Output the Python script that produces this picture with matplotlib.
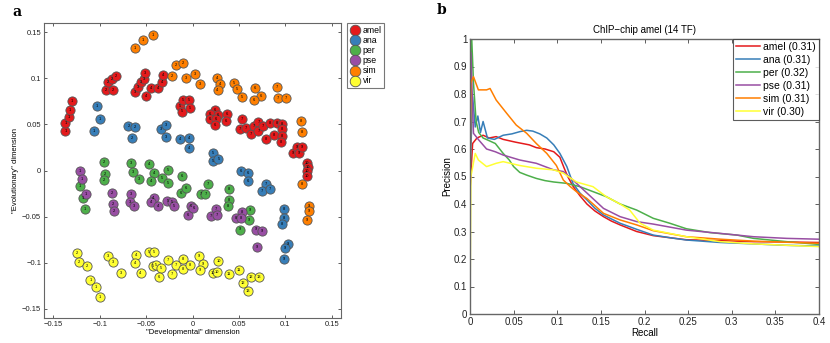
import matplotlib
matplotlib.use("Agg")
import matplotlib.pyplot as plt

plt.rcParams["font.family"] = ["Liberation Sans", "DejaVu Sans"]

# ---- panel a: MDS of expression profiles ----
species = ["amel", "ana", "per", "pse", "sim", "vir"]
colors = ["#E41A1C", "#377EB8", "#4DAF4A", "#984EA3", "#FF7F00", "#FFFF33"]

amel_x = [-0.137, -0.137, -0.133, -0.132, -0.130,
          -0.093, -0.086, -0.091, -0.087, -0.082,
          -0.062, -0.059, -0.055, -0.052, -0.051,
          -0.050, -0.045, -0.037, -0.033, -0.032,
          -0.013, -0.010, -0.011, -0.004, -0.003,
          0.024, 0.019, 0.027, 0.019, 0.025, 0.024, 0.037, 0.036,
          0.053, 0.051, 0.058, 0.063, 0.066, 0.071, 0.071, 0.076,
          0.079, 0.083, 0.088, 0.091, 0.096, 0.096, 0.096, 0.095,
          0.108, 0.113, 0.115, 0.118,
          0.123, 0.124, 0.123, 0.123]
amel_y = [0.043, 0.052, 0.058, 0.066, 0.075,
          0.087, 0.087, 0.096, 0.099, 0.102,
          0.085, 0.091, 0.096, 0.099, 0.106,
          0.081, 0.090, 0.090, 0.096, 0.104,
          0.070, 0.076, 0.064, 0.077, 0.068,
          0.066, 0.061, 0.060, 0.056, 0.056, 0.049, 0.061, 0.054,
          0.056, 0.045, 0.046, 0.040, 0.048, 0.053, 0.043, 0.048,
          0.034, 0.052, 0.039, 0.052, 0.050, 0.045, 0.037, 0.031,
          0.019, 0.025, 0.019, 0.026,
          0.008, 0.004, -0.001, -0.006]
amel_n = [1]*5 + [2]*5 + [3]*5 + [4]*5 + [5]*5 + [6]*8 + [7]*8 + [8]*8 + [9]*4 + [10]*4

ana_x = [-0.103, -0.100, -0.106, -0.069, -0.062, -0.065, -0.034, -0.029, -0.029,
         -0.013, -0.004, -0.004, 0.022, 0.022, 0.028, 0.052, 0.060, 0.060,
         0.079, 0.075, 0.083, 0.099, 0.099, 0.096, 0.103, 0.100, 0.099]
ana_y = [0.070, 0.056, 0.043, 0.048, 0.047, 0.035, 0.045, 0.049, 0.036,
         0.034, 0.035, 0.024, 0.019, 0.010, 0.012, -0.001, -0.003, -0.011,
         -0.015, -0.022, -0.020, -0.042, -0.051, -0.058, -0.080, -0.084, -0.096]
ana_n = [1]*3 + [2]*3 + [3]*3 + [4]*3 + [5]*3 + [6]*3 + [7]*3 + [8]*3 + [9]*3

per_x = [-0.121, -0.118, -0.116, -0.095, -0.094, -0.095, -0.066, -0.064, -0.058,
         -0.047, -0.041, -0.045, -0.026, -0.033, -0.026, -0.011, -0.012, -0.007,
         0.017, 0.009, 0.014, 0.039, 0.039, 0.038, 0.062, 0.061, 0.051]
per_y = [-0.017, -0.030, -0.042, 0.009, -0.004, -0.010, 0.008, -0.002, -0.009,
         0.007, -0.003, -0.011, 0.001, -0.008, -0.014, -0.006, -0.024, -0.019,
         -0.015, -0.025, -0.025, -0.020, -0.032, -0.038, -0.043, -0.054, -0.064]
per_n = ana_n

pse_x = [-0.121, -0.119, -0.115, -0.087, -0.086, -0.085, -0.066, -0.067, -0.063,
         -0.042, -0.045, -0.037, -0.027, -0.022, -0.020, -0.002, -0.005, 0.001,
         0.025, 0.020, 0.026, 0.053, 0.047, 0.052, 0.068, 0.075, 0.070]
pse_y = [-0.001, -0.009, -0.025, -0.024, -0.036, -0.044, -0.025, -0.034, -0.038,
         -0.030, -0.034, -0.038, -0.033, -0.034, -0.039, -0.038, -0.048, -0.041,
         -0.042, -0.049, -0.048, -0.045, -0.052, -0.052, -0.064, -0.066, -0.083]
pse_n = ana_n

sim_x = [-0.062, -0.053, -0.043, -0.022, -0.018, -0.010, -0.007, 0.003, 0.008,
         0.026, 0.030, 0.027, 0.045, 0.048, 0.053, 0.067, 0.074, 0.066,
         0.091, 0.092, 0.101, 0.117, 0.118, 0.118, 0.126, 0.125, 0.123]
sim_y = [0.133, 0.142, 0.147, 0.102, 0.114, 0.117, 0.100, 0.105, 0.094,
         0.100, 0.094, 0.087, 0.095, 0.088, 0.080, 0.089, 0.081, 0.077,
         0.091, 0.079, 0.079, 0.054, 0.042, -0.015, -0.038, -0.044, -0.054]
sim_n = ana_n

vir_x = [-0.110, -0.104, -0.100, -0.124, -0.122, -0.114, -0.091, -0.086, -0.077,
         -0.061, -0.062, -0.056, -0.047, -0.042, -0.043, -0.039, -0.034, -0.036,
         -0.026, -0.018, -0.022, -0.010, -0.010, -0.003, 0.007, 0.011, 0.008,
         0.028, 0.022, 0.026, 0.039, 0.050, 0.054, 0.063, 0.072, 0.060]
vir_y = [-0.119, -0.126, -0.137, -0.089, -0.099, -0.104, -0.093, -0.099, -0.111,
         -0.092, -0.100, -0.111, -0.088, -0.088, -0.104, -0.102, -0.106, -0.116,
         -0.097, -0.102, -0.112, -0.096, -0.107, -0.103, -0.093, -0.101, -0.108,
         -0.098, -0.111, -0.110, -0.112, -0.108, -0.122, -0.115, -0.116, -0.131]
vir_n = [1]*3 + [2]*3 + [3]*3 + [4]*3 + [5]*5 + [6] + [7]*3 + [8]*3 + [9]*3 + [10]*3 + [11]*2 + [12]*2 + [13]*2

mds_x = [amel_x, ana_x, per_x, pse_x, sim_x, vir_x]
mds_y = [amel_y, ana_y, per_y, pse_y, sim_y, vir_y]
mds_n = [amel_n, ana_n, per_n, pse_n, sim_n, vir_n]

# ---- panel b: precision-recall ----
amel_r = [0, 0.003, 0.008, 0.015, 0.022, 0.03, 0.038, 0.045, 0.052, 0.06, 0.068, 0.076,
          0.086, 0.096, 0.103, 0.108, 0.112, 0.118, 0.126, 0.134, 0.143, 0.153, 0.162,
          0.172, 0.191, 0.21, 0.23, 0.248, 0.287, 0.325, 0.36, 0.4]
amel_p = [0.45, 0.62, 0.64, 0.65, 0.64, 0.645, 0.635, 0.63, 0.625, 0.62, 0.615, 0.605,
          0.6, 0.59, 0.57, 0.53, 0.5, 0.465, 0.43, 0.40, 0.375, 0.354, 0.338,
          0.324, 0.30, 0.285, 0.277, 0.27, 0.267, 0.263, 0.262, 0.26]
ana_r = [0, 0.003, 0.006, 0.009, 0.012, 0.015, 0.02, 0.028, 0.038, 0.048, 0.057, 0.065,
         0.072, 0.08, 0.088, 0.096, 0.103, 0.111, 0.118, 0.126, 0.134, 0.143, 0.153,
         0.172, 0.191, 0.21, 0.23, 0.248, 0.287, 0.325, 0.36, 0.4]
ana_p = [0.5, 0.79, 0.68, 0.72, 0.66, 0.70, 0.64, 0.635, 0.65, 0.655, 0.663, 0.668,
         0.665, 0.655, 0.64, 0.615, 0.584, 0.536, 0.475, 0.44, 0.415, 0.385, 0.36,
         0.33, 0.308, 0.287, 0.277, 0.269, 0.26, 0.255, 0.25, 0.247]
per_r = [0, 0.002, 0.004, 0.007, 0.01, 0.015, 0.02, 0.029, 0.038, 0.045, 0.05, 0.057,
         0.065, 0.076, 0.086, 0.096, 0.111, 0.126, 0.141, 0.156, 0.172, 0.191, 0.21,
         0.229, 0.248, 0.275, 0.306, 0.325, 0.363, 0.4]
per_p = [0.6, 1.0, 0.84, 0.70, 0.66, 0.64, 0.633, 0.62, 0.584, 0.56, 0.536, 0.515,
         0.505, 0.493, 0.485, 0.48, 0.475, 0.463, 0.445, 0.427, 0.40, 0.378, 0.348,
         0.33, 0.31, 0.296, 0.287, 0.275, 0.263, 0.253]
pse_r = [0, 0.001, 0.004, 0.01, 0.019, 0.029, 0.038, 0.057, 0.076, 0.096, 0.107, 0.118,
         0.134, 0.153, 0.172, 0.191, 0.21, 0.248, 0.287, 0.325, 0.363, 0.4]
pse_p = [0.5, 0.95, 0.657, 0.633, 0.6, 0.59, 0.578, 0.56, 0.548, 0.524, 0.518, 0.487,
         0.44, 0.384, 0.354, 0.336, 0.327, 0.305, 0.293, 0.281, 0.275, 0.272]
sim_r = [0, 0.001, 0.004, 0.0096, 0.019, 0.023, 0.03, 0.042, 0.053, 0.065, 0.076, 0.088,
         0.099, 0.107, 0.115, 0.122, 0.134, 0.153, 0.172, 0.191, 0.21, 0.248, 0.287,
         0.325, 0.4]
sim_p = [0.4, 0.84, 0.863, 0.815, 0.815, 0.82, 0.778, 0.73, 0.687, 0.657, 0.62, 0.584,
         0.54, 0.487, 0.463, 0.445, 0.42, 0.366, 0.342, 0.324, 0.303, 0.281, 0.272,
         0.265, 0.257]
vir_r = [0, 0.001, 0.006, 0.0096, 0.019, 0.03, 0.038, 0.057, 0.076, 0.096, 0.107, 0.122,
         0.141, 0.156, 0.172, 0.183, 0.195, 0.21, 0.248, 0.287, 0.325, 0.4]
vir_p = [0.0, 0.5, 0.584, 0.56, 0.536, 0.548, 0.554, 0.54, 0.53, 0.524, 0.512, 0.48,
         0.463, 0.427, 0.40, 0.378, 0.33, 0.305, 0.281, 0.263, 0.255, 0.245]
auc = ["0.31", "0.31", "0.32", "0.31", "0.31", "0.30"]

pr_r = [amel_r, ana_r, per_r, pse_r, sim_r, vir_r]
pr_p = [amel_p, ana_p, per_p, pse_p, sim_p, vir_p]

fig = plt.figure(figsize=(8.3, 3.43), dpi=100)

# panel a
ax1 = fig.add_axes([44/830, 1-318/343, 297/830, 295/343])
for i in range(6):
    ax1.scatter(mds_x[i], mds_y[i], s=44, c=colors[i], edgecolors="#555555",
                linewidths=0.6, zorder=2, label=species[i])
    for xx, yy, nn in zip(mds_x[i], mds_y[i], mds_n[i]):
        ax1.text(xx, yy, str(nn), fontsize=2.9, ha="center", va="center",
                 color="black", zorder=3)
ax1.set_xlim(-0.16, 0.16)
ax1.set_ylim(-0.16, 0.16)
ax1.set_xticks([-0.15, -0.1, -0.05, 0, 0.05, 0.1, 0.15])
ax1.set_xticklabels(["\u22120.15", "\u22120.1", "\u22120.05", "0", "0.05", "0.1", "0.15"])
ax1.set_yticks([-0.15, -0.1, -0.05, 0, 0.05, 0.1, 0.15])
ax1.set_yticklabels(["\u22120.15", "\u22120.1", "\u22120.05", "0", "0.05", "0.1", "0.15"])
ax1.tick_params(direction="in", top=True, right=True, labelsize=5.5, length=2.5,
                width=0.6, colors="#444444", labelcolor="#222222", pad=2)
for sp in ax1.spines.values():
    sp.set_color("#666666")
    sp.set_linewidth(0.8)
ax1.set_xlabel('"Developmental" dimension', fontsize=5.5, labelpad=1)
ax1.set_ylabel('"Evolutionary" dimension', fontsize=5.5, labelpad=2)
leg1 = ax1.legend(loc="upper left", bbox_to_anchor=(1.02, 1.0), fontsize=6.3,
                  frameon=True, fancybox=False, edgecolor="#555555",
                  labelspacing=0.12, handletextpad=0.2, borderpad=0.3,
                  handlelength=1.3, borderaxespad=0, scatterpoints=1,
                  markerscale=1.15)
leg1.get_frame().set_linewidth(0.8)

# panel b
ax2 = fig.add_axes([470/830, 1-314/343, 349/830, 275/343])
for i in range(6):
    ax2.plot(pr_r[i], pr_p[i], color=colors[i], lw=1.1,
             label="%s (%s)" % (species[i], auc[i]))
ax2.set_xlim(0, 0.4)
ax2.set_ylim(0, 1)
ax2.set_xticks([0, 0.05, 0.1, 0.15, 0.2, 0.25, 0.3, 0.35, 0.4])
ax2.set_xticklabels(["0", "0.05", "0.1", "0.15", "0.2", "0.25", "0.3", "0.35", "0.4"])
ax2.set_yticks([0, 0.1, 0.2, 0.3, 0.4, 0.5, 0.6, 0.7, 0.8, 0.9, 1])
ax2.set_yticklabels(["0", "0.1", "0.2", "0.3", "0.4", "0.5", "0.6", "0.7", "0.8", "0.9", "1"])
ax2.tick_params(direction="in", top=True, right=True, labelsize=7, length=3,
                width=0.6, colors="#444444", labelcolor="#222222", pad=2)
for sp in ax2.spines.values():
    sp.set_color("#666666")
    sp.set_linewidth(1.0)
ax2.set_xlabel("Recall", fontsize=7, labelpad=1)
ax2.set_ylabel("Precision", fontsize=7, labelpad=1)
ax2.set_title("ChIP\u2212chip amel (14 TF)", fontsize=7, pad=4)
leg2 = ax2.legend(loc="upper right", fontsize=7.5, frameon=True, fancybox=False,
                  edgecolor="#333333", labelspacing=0.28, handletextpad=0.3,
                  borderpad=0.3, handlelength=2.3, borderaxespad=0)
leg2.get_frame().set_linewidth(0.8)

fig.text(12/830, 1-12/343, "a", fontsize=10, fontweight="bold",
         family="DejaVu Serif", ha="left", va="center")
fig.text(437/830, 1-10/343, "b", fontsize=10, fontweight="bold",
         family="DejaVu Serif", ha="left", va="center")

fig.savefig("out.png", dpi=100)
